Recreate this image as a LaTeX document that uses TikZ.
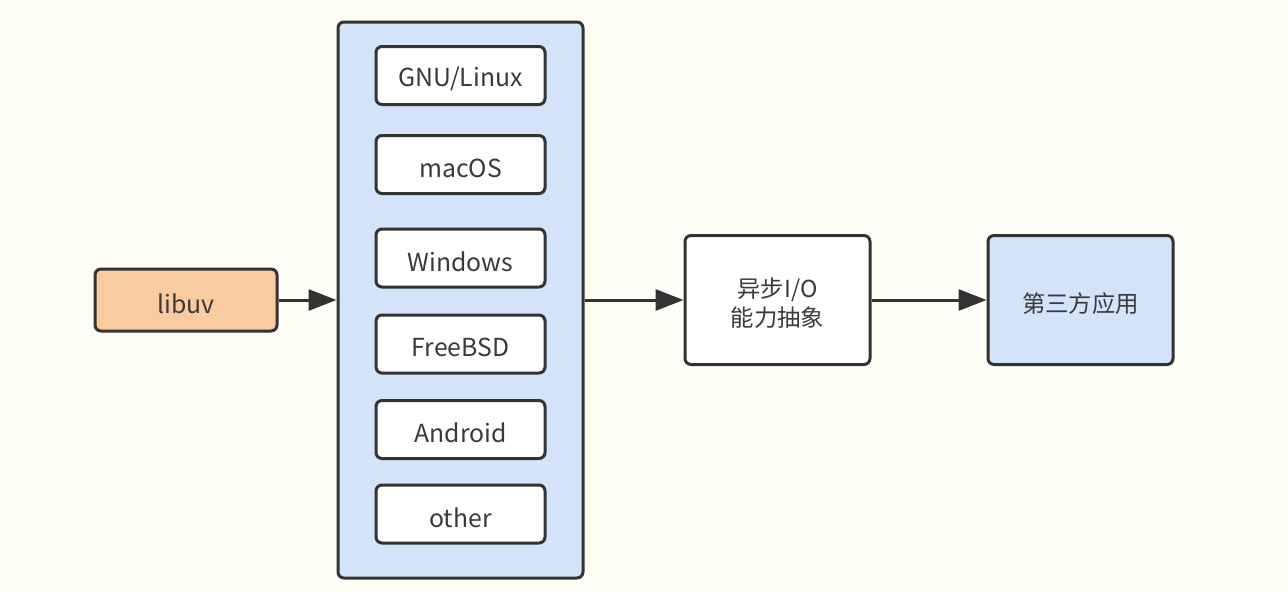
\documentclass[tikz,border=0pt]{standalone}
\usepackage{fontspec}
\setmainfont{Noto Sans CJK SC}
\usetikzlibrary{arrows.meta}
\definecolor{bgc}{HTML}{FEFDF6}
\definecolor{edge}{HTML}{333333}
\definecolor{txt}{HTML}{3A3A3A}
\definecolor{peach}{HTML}{F8CBA1}
\definecolor{lblue}{HTML}{D2E3FA}
\newcommand{\oslow}[1]{\raisebox{-1.8pt}[\height][\depth]{#1}}
\tikzset{
  box/.style={draw=edge, line width=1.5pt, rounded corners=3pt, text=txt,
    font=\fontsize{11.7}{14.5}\selectfont, align=center, inner sep=0pt},
  lat/.style={font=\fontsize{12.4}{14.5}\selectfont},
  osbox/.style={box, lat, fill=white, minimum width=84.5pt, minimum height=29pt},
  bigbox/.style={box, minimum width=92.5pt, minimum height=64.5pt},
  arr/.style={draw=edge, line width=1.5pt, -{Triangle[length=14pt,width=10.5pt]}}
}
\begin{document}
\begin{tikzpicture}[x=0.5pt,y=-0.5pt]
\fill[bgc] (0,0) rectangle (1288,595);
\useasboundingbox (0,0) rectangle (1288,595);
\node[box, lat, fill=peach, minimum width=91pt, minimum height=31pt] (libuv) at (186,300) {\oslow{libuv}};
\node[box, fill=lblue, minimum width=122.5pt, minimum height=278pt] (cont) at (460.5,300) {};
\node[osbox] (gnu) at (460.5,75.5) {\oslow{GNU/Linux}};
\node[osbox] (mac) at (460.5,164.5) {\oslow{macOS}};
\node[osbox] (win) at (460.5,258) {\oslow{Windows}};
\node[osbox] (bsd) at (460.5,344) {\oslow{FreeBSD}};
\node[osbox] (and) at (460.5,429.5) {\oslow{Android}};
\node[osbox] (oth) at (460.5,514) {\oslow{other}};
\node[bigbox, fill=white] (io) at (777.5,300) {\oslow{\parbox{80pt}{\centering 异步I/O\\能力抽象}}};
\node[bigbox, fill=lblue] (app) at (1080.5,300) {\oslow{第三方应用}};
\draw[arr] (libuv) -- (cont);
\draw[arr] (cont) -- (io);
\draw[arr] (io) -- (app);
\end{tikzpicture}
\end{document}
